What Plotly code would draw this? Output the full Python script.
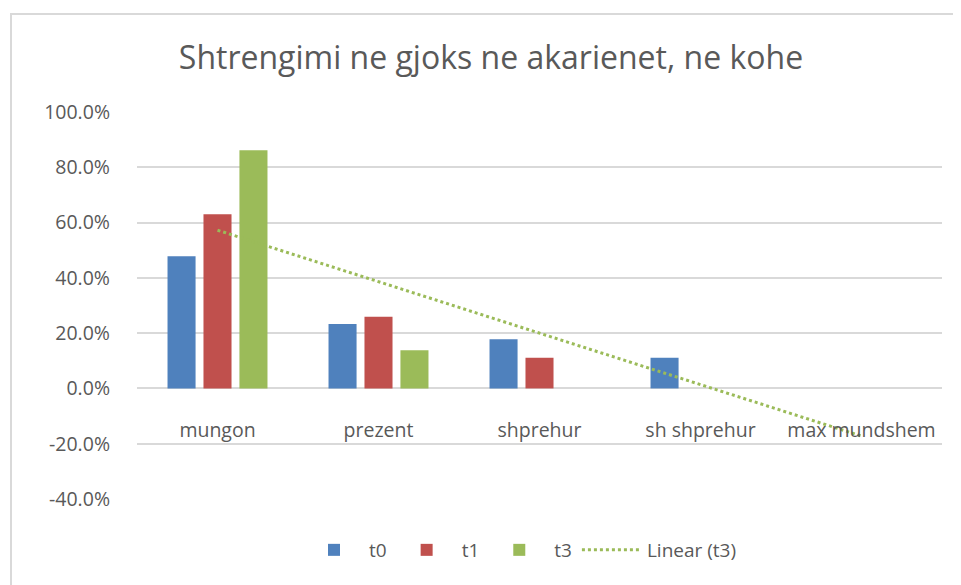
import numpy as np
import plotly.graph_objects as go

categories = ["mungon", "prezent", "shprehur", "sh shprehur", "max mundshem"]
t0 = [0.478, 0.233, 0.178, 0.111, 0.0]
t1 = [0.630, 0.259, 0.111, 0.0, 0.0]
t3 = [0.862, 0.138, 0.0, 0.0, 0.0]
y_ticks = [-0.4, -0.2, 0.0, 0.2, 0.4, 0.6, 0.8, 1.0]
y_ticktext = [f"{v * 100:.1f}%" for v in y_ticks]

title_text = "Shtrengimi ne gjoks ne akarienet, ne kohe"
FONT = "Open Sans"
GREY = "#595959"
GRID = "#d9d9d9"

# Linear trendline of t3 (least squares over category index)
idx = np.arange(len(categories))
slope, intercept = np.polyfit(idx, t3, 1)
trend = list(slope * idx + intercept)

fig = go.Figure()
for name, vals, col in [("t0", t0, "#4F81BD"), ("t1", t1, "#C0504D"), ("t3", t3, "#9BBB59")]:
    fig.add_trace(go.Bar(
        x=categories, y=vals, name=name,
        marker=dict(color=col, line=dict(width=0)),
    ))
fig.add_trace(go.Scatter(
    x=categories, y=trend, name="Linear (t3)", mode="lines",
    line=dict(color="#9BBB59", width=3, dash="dot"),
))

OFF = 8  # page body margin
W, H = 961 - OFF, 585 - OFF
L, R, T, B = 137 - OFF, 19, 112 - OFF, 86
pw, ph = W - L - R, H - T - B

def px_x(p):
    return (p - OFF - L) / pw

def px_y(p):
    return (H - B - (p - OFF)) / ph

fig.update_layout(
    width=W, height=H,
    margin=dict(l=L, r=R, t=T, b=B),
    paper_bgcolor="white", plot_bgcolor="white",
    barmode="group", bargap=0.33, bargroupgap=0.22,
    font=dict(family=FONT, color=GREY, size=20),
    title=dict(text=title_text, x=(491 - OFF) / W, xanchor="center",
               y=1 - (58 - OFF) / H, yanchor="middle",
               font=dict(family=FONT, size=32, color=GREY)),
    showlegend=True,
    legend=dict(orientation="h", x=(462 - OFF) / W, xref="paper", xanchor="center",
                y=px_y(550), yanchor="middle", font=dict(size=19, color=GREY),
                itemwidth=60, traceorder="normal"),
    xaxis=dict(
        type="category", anchor="free", position=0.4 / 1.4,
        showline=False, ticks="", showgrid=False, zeroline=False,
        tickfont=dict(size=19.5, color=GREY), ticklabelstandoff=28,
    ),
    yaxis=dict(
        range=[-0.4, 1.0], tickvals=y_ticks, ticktext=y_ticktext,
        showgrid=True, gridcolor=GRID, gridwidth=1.5,
        zeroline=True, zerolinecolor=GRID, zerolinewidth=1.5,
        showline=False, ticks="", tickfont=dict(size=19.5, color=GREY),
        ticklabelstandoff=26,
    ),
    shapes=[dict(type="rect", xref="paper", yref="paper",
                 x0=px_x(11), x1=px_x(1010), y0=px_y(640), y1=px_y(14),
                 line=dict(color=GRID, width=2), fillcolor="rgba(0,0,0,0)", layer="below")],
)

fig.write_html("out.html")
